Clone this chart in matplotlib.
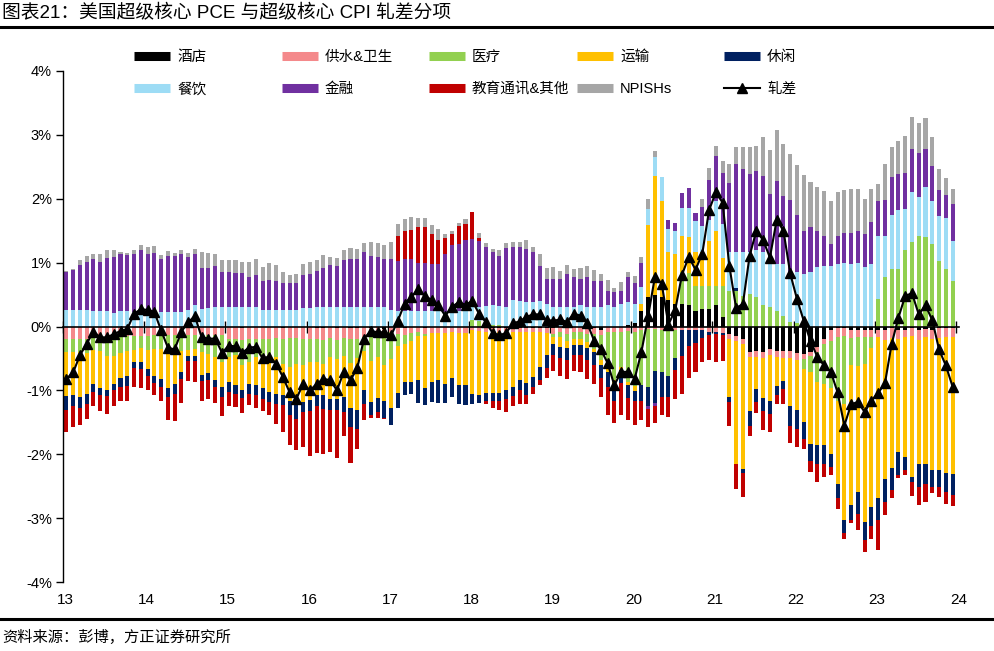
import numpy as np
import matplotlib
matplotlib.use("Agg")
import matplotlib.pyplot as plt
from matplotlib.lines import Line2D
from matplotlib import font_manager

# ---------------- data (monthly, Jan-2013 .. Dec-2023, % points) ----------------
year_labels = ["13", "14", "15", "16", "17", "18", "19", "20", "21", "22", "23", "24"]
names = ["酒店", "供水&卫生", "医疗", "运输", "休闲", "餐饮", "金融", "教育通讯&其他", "NPISHs"]
line_name = "轧差"

hotel = [0]*12 + [0]*12 + \
    [0, 0, -0.02, 0, 0, 0, 0, 0, -0.02, 0, 0, 0] + \
    [0, -0.02, -0.03, 0, -0.03, 0, -0.03, -0.03, 0, -0.03, 0, -0.04] + \
    [0, 0, -0.03, 0, 0, -0.03, 0, 0, 0, 0, 0, 0] + \
    [0, 0, -0.02, -0.02, -0.02, -0.02, -0.02, -0.02, -0.02, -0.02, -0.02, -0.02] + \
    [-0.02, 0, -0.02, 0, 0, -0.02, -0.03, -0.05, 0, 0, 0, 0.03] + \
    [0.06, 0.25, 0.46, 0.5, 0.46, 0.41, 0.36, 0.35, 0.34, 0.25, 0.28, 0.28] + \
    [0.33, 0.15, -0.12, -0.15, -0.2, -0.4, -0.38, -0.4, -0.35, -0.38, -0.38, -0.38] + \
    [-0.42, -0.43, -0.4, -0.32, -0.19, -0.06, -0.03, -0.03, -0.05, -0.05, -0.05, -0.05] + \
    [-0.05, -0.06, -0.03, -0.05, -0.05, -0.03, -0.06, -0.04, -0.05, -0.03, -0.02, -0.02]

water = [-0.19, -0.19, -0.19, -0.19, -0.17, -0.17, -0.17, -0.15, -0.15, -0.15, -0.15, -0.15] + \
    [-0.15, -0.14, -0.14, -0.14, -0.14, -0.14, -0.14, -0.14, -0.14, -0.14, -0.14, -0.14] + \
    [-0.19, -0.19, -0.19, -0.19, -0.19, -0.19, -0.19, -0.18, -0.18, -0.18, -0.18, -0.19] + \
    [-0.19, -0.18, -0.18, -0.18, -0.18, -0.18, -0.16, -0.16, -0.16, -0.125, -0.125, -0.125] + \
    [-0.09, -0.11, -0.1, -0.1, -0.09, -0.09, -0.1, -0.1, -0.1, -0.09, -0.1, -0.1] + \
    [-0.06, -0.07, -0.07, -0.07, -0.07, -0.07, -0.07, -0.07, -0.07, -0.07, -0.07, -0.08] + \
    [-0.09, -0.09, -0.1, -0.09, -0.09, -0.1, -0.09, -0.08, -0.09, -0.09, -0.08, -0.07] + \
    [-0.08, -0.06, -0.04, -0.04, -0.05, -0.05, -0.05, -0.06, -0.06, -0.06, -0.06, -0.08] + \
    [-0.08, -0.1, -0.08, -0.08, -0.08, -0.08, -0.1, -0.1, -0.1, -0.1, -0.12, -0.12] + \
    [-0.1, -0.08, -0.06, -0.08, -0.08, -0.16, -0.13, -0.12, -0.13, -0.12, -0.12, -0.12] + \
    [-0.12, -0.15, -0.15, -0.15, -0.12, -0.12, -0.15, -0.12, -0.15, -0.15, -0.15, -0.15]

medical = [-0.21, -0.21, -0.21, -0.22, -0.2, -0.22, -0.29, -0.31, -0.27, -0.23, -0.22, -0.19] + \
    [-0.22, -0.21, -0.22, -0.23, -0.23, -0.25, -0.23, -0.21, -0.26, -0.29, -0.34, -0.42] + \
    [-0.29, -0.26, -0.39, -0.36, -0.29, -0.31, -0.31, -0.3, -0.38, -0.46, -0.41, -0.42] + \
    [-0.36, -0.35, -0.38, -0.3, -0.3, -0.28, -0.38, -0.3, -0.22, -0.38, -0.35, -0.43] + \
    [-0.42, -0.2, -0.15, -0.12, -0.06, -0.03, 0, 0, 0, 0, 0, 0] + \
    [0.1, 0.08, 0.05, 0.03, 0.02, 0, 0, 0, 0, 0, 0, 0] + \
    [-0.05, -0.08, -0.1, -0.1, -0.1, -0.12, -0.23, -0.39, -0.55, -0.75, -0.55, -0.8] + \
    [-0.85, -0.85, -0.9, -0.65, -0.66, -0.72, -0.45, 0.5, 0.5, 0.39, 0.35, 0.36] + \
    [0.31, 0.49, 0.56, 0.55, 0.48, 0.51, 0.46, 0.33, 0.3, 0.25, 0.17, 0.07] + \
    [0.05, -0.16, -0.26, -0.47, -0.63, -0.75, -1.0, -1.07, -0.42, -0.45, -0.41, -0.16] + \
    [0.43, 0.78, 0.9, 0.9, 1.19, 1.32, 1.42, 1.4, 1.29, 1.03, 0.9, 0.72]

transport = [-0.69, -0.68, -0.7, -0.64, -0.53, -0.57, -0.53, -0.44, -0.39, -0.39, -0.18, -0.21] + \
    [-0.3, -0.43, -0.46, -0.6, -0.53, -0.33, -0.09, -0.11, -0.36, -0.3, -0.35, -0.39] + \
    [-0.39, -0.47, -0.39, -0.35, -0.43, -0.47, -0.52, -0.57, -0.49, -0.53, -0.55, -0.57] + \
    [-0.6, -0.52, -0.49, -0.65, -0.62, -0.65, -0.7, -0.81, -0.62, -0.65, -0.65, -0.57] + \
    [-0.77, -0.73, -0.59, -0.65, -0.68, -0.82, -0.77, -0.74, -0.8, -0.72, -0.82, -0.82] + \
    [-1.0, -1.0, -0.95, -0.95, -0.95, -0.9, -0.85, -0.75, -0.8, -0.7, -0.55, -0.35] + \
    [-0.12, -0.15, -0.12, -0.1, -0.1, -0.1, -0.05, -0.08, -0.08, -0.1, -0.05, -0.05] + \
    [-0.08, 0.1, 1.13, 1.86, 1.5, 0.76, 0.77, 0.56, 0.56, 0.52, 0.54, 0.7] + \
    [0.86, 0.44, -0.9, -1.93, -1.95, -0.85, -0.5, -0.62, -0.72, -0.45, -0.35, -0.75] + \
    [-0.79, -0.83, -1.12, -0.99, -0.96, -1.02, -1.3, -1.81, -2.2, -1.97, -2.48, -2.5] + \
    [-2.52, -2.17, -2.04, -1.76, -1.87, -2.2, -1.94, -2.0, -2.05, -2.07, -2.13, -2.14]

leisure = [-0.22, -0.17, -0.17, -0.16, -0.12, -0.12, -0.1, -0.09, -0.13, -0.16, -0.1, -0.12] + \
    [-0.1, -0.11, -0.12, -0.13, -0.15, -0.1, -0.08, -0.08, -0.1, -0.1, -0.11, -0.16] + \
    [-0.16, -0.13, -0.13, -0.16, -0.16, -0.17, -0.16, -0.16, -0.16, -0.22, -0.31, -0.16] + \
    [-0.18, -0.18, -0.21, -0.18, -0.18, -0.23, -0.31, -0.31, -0.21, -0.2, -0.21, -0.26] + \
    [-0.26, -0.23, -0.21, -0.18, -0.36, -0.26, -0.31, -0.36, -0.29, -0.29, -0.3, -0.31] + \
    [-0.15, -0.12, -0.12, -0.12, -0.12, -0.15, -0.15, -0.15, -0.18, -0.15, -0.2, -0.2] + \
    [-0.17, -0.17, -0.18, -0.15, -0.15, -0.18, -0.2, -0.2, -0.22, -0.22, -0.2, -0.2] + \
    [-0.15, -0.25, -0.3, -0.5, -0.39, -0.34, -0.18, -0.4, -0.25, -0.2, -0.12, -0.05] + \
    [-0.04, -0.04, -0.08, 0.06, -0.06, -0.23, -0.2, -0.2, -0.2, -0.15, -0.13, -0.3] + \
    [-0.29, -0.26, -0.26, -0.29, -0.29, -0.21, -0.23, -0.21, -0.23, -0.34, -0.29, -0.29] + \
    [-0.34, -0.36, -0.34, -0.36, -0.21, -0.08, -0.36, -0.3, -0.26, -0.26, -0.29, -0.33]

food = [0.26, 0.26, 0.26, 0.26, 0.24, 0.24, 0.24, 0.21, 0.24, 0.24, 0.23, 0.22] + \
    [0.21, 0.21, 0.23, 0.23, 0.23, 0.23, 0.26, 0.33, 0.28, 0.29, 0.31, 0.31] + \
    [0.31, 0.31, 0.31, 0.31, 0.31, 0.26, 0.26, 0.26, 0.26, 0.26, 0.26, 0.29] + \
    [0.29, 0.31, 0.31, 0.31, 0.31, 0.31, 0.31, 0.31, 0.31, 0.31, 0.31, 0.3] + \
    [0.26, 0.25, 0.25, 0.25, 0.25, 0.25, 0.25, 0.24, 0.23, 0.24, 0.24, 0.25] + \
    [0.22, 0.22, 0.27, 0.3, 0.3, 0.3, 0.42, 0.4, 0.38, 0.38, 0.4, 0.36] + \
    [0.3, 0.3, 0.3, 0.3, 0.33, 0.3, 0.3, 0.31, 0.33, 0.3, 0.35, 0.35] + \
    [0.29, 0.27, 0.25, 0.3, 0.375, 0.36, 0.36, 0.45, 0.45, 0.49, 0.4, 0.32] + \
    [0.47, 0.52, 0.6, 0.55, 0.68, 0.65, 0.73, 0.83, 0.7, 0.73, 0.81, 0.78] + \
    [0.8, 0.82, 0.85, 0.93, 0.94, 0.94, 0.98, 0.99, 0.98, 0.99, 0.93, 0.98] + \
    [0.99, 0.64, 0.85, 0.92, 0.65, 0.78, 0.6, 0.78, 0.68, 0.7, 0.8, 0.62]

finance = [0.59, 0.62, 0.71, 0.75, 0.81, 0.77, 0.84, 0.88, 0.89, 0.885, 0.91, 0.97] + \
    [0.92, 0.94, 0.82, 0.88, 0.87, 0.9, 0.83, 0.8, 0.63, 0.63, 0.63, 0.54] + \
    [0.54, 0.52, 0.52, 0.47, 0.5, 0.45, 0.47, 0.46, 0.42, 0.42, 0.42, 0.52] + \
    [0.53, 0.565, 0.61, 0.66, 0.64, 0.73, 0.75, 0.75, 0.85, 0.8, 0.78, 0.76] + \
    [0.8, 0.78, 0.81, 0.81, 0.75, 0.75, 0.73, 0.74, 0.91, 1.03, 1.05, 1.1] + \
    [1.05, 1.04, 0.93, 0.83, 0.79, 0.93, 0.82, 0.85, 0.83, 0.78, 0.55, 0.39] + \
    [0.44, 0.44, 0.52, 0.47, 0.41, 0.47, 0.42, 0.41, 0.22, 0.24, 0.21, 0.39] + \
    [0.33, 0.37, -0.05, -0.06, 0, 0.13, 0.13, 0.23, 0.32, 0.12, 0.3, 0.63] + \
    [0.7, 0.8, 1.09, 1.38, 1.3, 1.22, 1.25, 1.2, 1.07, 1.3, 1.07, 1.13] + \
    [0.9, 0.68, 0.71, 0.56, 0.48, 0.35, 0.44, 0.48, 0.49, 0.51, 0.52, 0.65] + \
    [0.55, 0.56, 0.59, 0.57, 0.57, 0.68, 0.7, 0.6, 0.55, 0.4, 0.36, 0.58]

education = [-0.34, -0.32, -0.27, -0.24, -0.22, -0.24, -0.28, -0.26, -0.23, -0.23, -0.29, -0.29] + \
    [-0.23, -0.18, -0.23, -0.37, -0.43, -0.38, -0.32, -0.33, -0.3, -0.3, -0.26, -0.29] + \
    [-0.21, -0.21, -0.23, -0.17, -0.21, -0.19, -0.21, -0.31, -0.42, -0.47, -0.49, -0.55] + \
    [-0.7, -0.73, -0.7, -0.65, -0.75, -0.38, -0.55, -0.31, -0.26, -0.04, -0.1, -0.02] + \
    [0, 0.39, 0.43, 0.45, 0.55, 0.55, 0.47, 0.37, 0.25, 0.18, 0.28, 0.26] + \
    [0.42, 0.04, -0.05, -0.12, -0.15, -0.2, -0.15, -0.22, -0.15, -0.12, -0.08, -0.15] + \
    [-0.25, -0.28, -0.3, -0.25, -0.28, -0.3, -0.3, -0.3, -0.45, -0.35, -0.5, -0.35] + \
    [-0.38, -0.3, -0.28, -0.26, -0.29, -0.31, -0.45, -0.6, -0.5, -0.45, -0.37, -0.4] + \
    [-0.44, -0.4, -0.37, -0.38, -0.38, -0.16, -0.18, -0.3, -0.28, -0.13, -0.23, -0.28] + \
    [-0.28, -0.16, -0.18, -0.29, -0.21, -0.13, -0.16, -0.09, -0.05, -0.25, -0.18, -0.21] + \
    [-0.47, -0.21, -0.13, -0.05, -0.08, -0.23, -0.29, -0.29, -0.1, -0.16, -0.19, -0.17]

npish = [0.02, 0.02, 0.07, 0.09, 0.09, 0.12, 0.11, 0.1, 0.04, 0.03, 0.06, 0.08] + \
    [0.115, 0.105, 0.065, 0.07, 0.05, 0.06, 0.06, 0.08, 0.25, 0.23, 0.2, 0.19] + \
    [0.19, 0.21, 0.175, 0.225, 0.25, 0.22, 0.26, 0.24, 0.17, 0.12, 0.14, 0.17] + \
    [0.185, 0.165, 0.205, 0.12, 0.13, 0.16, 0.17, 0.16, 0.14, 0.21, 0.22, 0.21] + \
    [0.26, 0.18, 0.19, 0.2, 0.15, 0.15, 0.14, 0.17, 0.06, 0.05, 0.05, 0.07] + \
    [0, 0.08, 0.05, 0.06, 0.09, 0.07, 0.09, 0.08, 0.14, 0.09, 0.18, 0.16] + \
    [0.19, 0.13, 0.15, 0.13, 0.18, 0.17, 0.17, 0.1, 0.18, 0.07, 0.13, 0.08] + \
    [0.11, 0.1, 0.16, 0.08, 0, 0, 0, 0, 0, 0, 0.13, 0.19] + \
    [0.16, 0.19, 0.29, 0.27, 0.35, 0.43, 0.39, 0.61, 0.7, 0.79, 0.8, 0.72] + \
    [0.78, 0.875, 0.7, 0.69, 0.7, 0.68, 0.69, 0.67, 0.68, 0.65, 0.55, 0.52] + \
    [0.26, 0.57, 0.47, 0.51, 0.57, 0.5, 0.47, 0.48, 0.45, 0.33, 0.26, 0.23]

spread = [-0.82, -0.72, -0.45, -0.27, -0.08, -0.17, -0.17, -0.12, -0.07, -0.04, 0.2, 0.27] + \
    [0.26, 0.23, -0.06, -0.33, -0.36, -0.08, 0.07, 0.16, -0.17, -0.19, -0.19, -0.41] + \
    [-0.3, -0.31, -0.41, -0.33, -0.32, -0.5, -0.47, -0.58, -0.79, -1.03, -1.13, -0.9] + \
    [-1.0, -0.9, -0.82, -0.84, -1.0, -0.71, -0.84, -0.65, -0.19, -0.07, -0.09, -0.09] + \
    [-0.14, 0.09, 0.36, 0.46, 0.59, 0.47, 0.42, 0.33, 0.17, 0.31, 0.38, 0.34] + \
    [0.4, 0.2, 0.07, -0.1, -0.14, -0.1, 0.05, 0.08, 0.15, 0.19, 0.19, 0.1] + \
    [0.09, 0.11, 0.07, 0.2, 0.17, 0.05, -0.22, -0.36, -0.57, -0.92, -0.71, -0.71] + \
    [-0.82, -0.4, 0.16, 0.78, 0.67, 0.03, 0.26, 0.81, 1.09, 0.89, 1.14, 1.82] + \
    [2.1, 1.94, 0.95, 0.29, 0.35, 1.11, 1.5, 1.35, 1.08, 1.67, 1.5, 0.83] + \
    [0.43, 0.09, -0.23, -0.47, -0.61, -0.71, -1.03, -1.55, -1.22, -1.18, -1.34, -1.16] + \
    [-1.04, -0.89, -0.27, 0.14, 0.48, 0.52, 0.19, 0.33, 0.1, -0.36, -0.61, -0.94]

series = [hotel, water, medical, transport, leisure, food, finance, education, npish]
colors = ["#000000", "#F4898B", "#92D050", "#FFC000", "#002060",
          "#9DDCF5", "#7030A0", "#C00000", "#A6A6A6"]

# ---------------- fonts ----------------
avail = {f.name for f in font_manager.fontManager.ttflist}
narrow = "Liberation Sans Narrow" if "Liberation Sans Narrow" in avail else "Liberation Sans"
plt.rcParams["font.family"] = ["Liberation Sans", "Noto Sans CJK SC", "DejaVu Sans"]
cjk = ["Noto Sans CJK SC", "DejaVu Sans"]

W, H = 995, 651
fig = plt.figure(figsize=(W / 100, H / 100), dpi=100)
ax = fig.add_axes([63 / W, 1 - 582 / H, (959 - 63) / W, (582 - 71) / H])

n = len(spread)
x = np.arange(n) + 0.5
pos = np.zeros(n)
neg = np.zeros(n)
for vals, c in zip(series, colors):
    v = np.array(vals, dtype=float)
    bottom = np.where(v >= 0, pos, neg)
    ax.bar(x, v, width=0.6, bottom=bottom, color=c, linewidth=0, zorder=2)
    pos += np.where(v > 0, v, 0)
    neg += np.where(v < 0, v, 0)

ax.plot(x, spread, color="black", lw=1.5, marker="^", ms=6.5, zorder=5)

ax.set_xlim(0, 132.45)
ax.set_ylim(-4, 4)
ax.set_yticks(range(-4, 5))
ax.set_yticklabels([f"{v}%" for v in range(-4, 5)])
ax.tick_params(axis="y", direction="out", length=5, width=1, labelsize=10.5, pad=3)
for s in ("top", "right"):
    ax.spines[s].set_visible(False)
ax.spines["left"].set_linewidth(1)
ax.spines["bottom"].set_position(("data", 0))
ax.spines["bottom"].set_linewidth(1.2)
ax.spines["bottom"].set_zorder(4)
ax.set_xticks(np.arange(0, 133, 12))
ax.tick_params(axis="x", direction="inout", length=8, width=1, labelbottom=False)

sec = ax.secondary_xaxis("bottom")
sec.set_xticks(np.arange(0, 133, 12) + 0.35)
sec.set_xticklabels(year_labels, family=narrow, fontsize=11)
sec.tick_params(length=0, pad=8)
sec.spines["bottom"].set_visible(False)

# ---------------- legend (5 columns x 2 rows) ----------------
def bar_handle(c):
    return Line2D([], [], color=c, lw=6.5, solid_capstyle="butt")

line_handle = Line2D([], [], color="black", lw=1.5, marker="^", ms=6.5)
cols = [(0, 5), (1, 6), (2, 7), (3, 8), (4, None)]
xs = [134, 282, 429, 577, 724]
for xp, (a, b) in zip(xs, cols):
    hs = [bar_handle(colors[a])]
    ls = [names[a]]
    if b is None:
        hs.append(line_handle)
        ls.append(line_name)
    else:
        hs.append(bar_handle(colors[b]))
        ls.append(names[b])
    fig.legend(hs, ls, loc="upper left", bbox_to_anchor=(xp / W, 1 - 50 / H),
               frameon=False, fontsize=10.5, handlelength=2.5, handletextpad=0.45,
               labelspacing=1.25, borderpad=0, borderaxespad=0)

# ---------------- title, rules, source ----------------
fig.text(2 / W, 1 - 13 / H, "图表21：美国超级核心 PCE 与超级核心 CPI 轧差分项",
         fontsize=13.5, ha="left", va="center")
fig.add_artist(Line2D([0, 1], [1 - 27 / H] * 2, color="black", lw=2.2,
                      transform=fig.transFigure))
fig.add_artist(Line2D([0, 1], [1 - 619 / H] * 2, color="black", lw=2.2,
                      transform=fig.transFigure))
fig.text(2 / W, 1 - 637 / H, "资料来源：彭博，方正证券研究所", fontsize=11,
         ha="left", va="center", family=cjk)

fig.savefig("out.png", dpi=100)
